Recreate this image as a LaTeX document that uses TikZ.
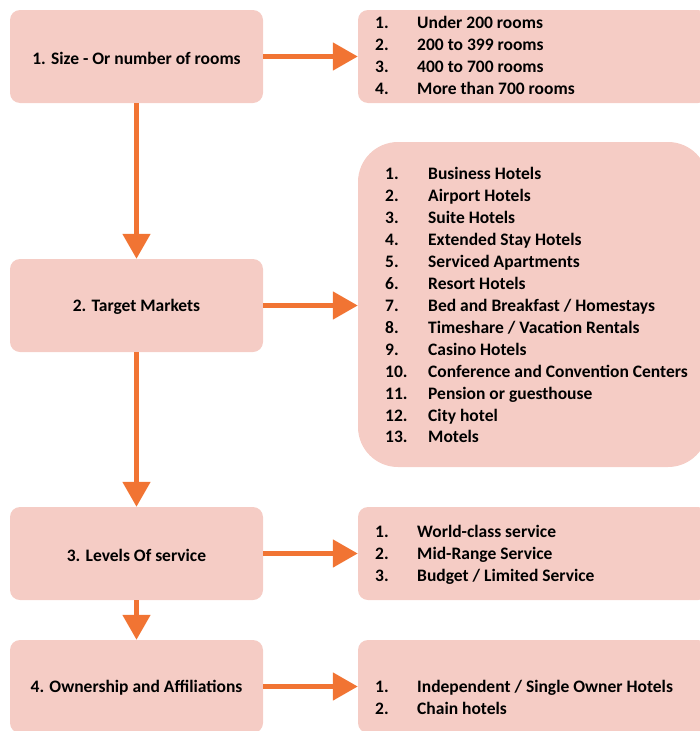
\documentclass[tikz,border=0pt]{standalone}
\usepackage{fontspec}
\setmainfont{Carlito}
\usetikzlibrary{arrows.meta}
\definecolor{boxfill}{RGB}{245,204,197}
\definecolor{arrowc}{RGB}{241,116,51}
\begin{document}
\begin{tikzpicture}[x=1pt,y=-1pt,
  card/.style={rectangle,rounded corners=10pt,fill=boxfill,inner sep=0pt,
    minimum width=253pt,minimum height=93pt},
  label/.style={inner sep=0pt,font=\bfseries\fontsize{17.5}{21}\selectfont},
  listbox/.style={rectangle,rounded corners=#1,fill=boxfill,inner sep=0pt,
    minimum width=350pt},
  flow/.style={draw=arrowc,line width=5pt,
    -{Triangle[width=27pt,length=25pt]}},
  entry/.style={anchor=mid west,inner sep=0pt,
    font=\bfseries\fontsize{17.5}{21}\selectfont}
]
\useasboundingbox (0,0) rectangle (700,731);

% category boxes on the left
\node[card] (b1) at (136.5,56.5) {};
\node[card] (b2) at (136.5,305.5) {};
\node[card] (b3) at (136.5,553.5) {};
\node[card] (b4) at (136.5,686.5) {};
\node[label] (l1) at (136.5,58) {1. Size - Or number of rooms};
\node[label] (l2) at (136.5,307) {2. Target Markets};
\node[label] (l3) at (136.5,555) {3. Levels Of service};
\node[label] (l4) at (136.5,688) {4. Ownership and Affiliations};

% list boxes on the right
\node[listbox=10pt,minimum height=93pt] (r1) at (533,56.5) {};
\node[listbox=40pt,minimum height=325pt] (r2) at (533,304.5) {};
\node[listbox=10pt,minimum height=93pt] (r3) at (533,553.5) {};
\node[listbox=10pt,minimum height=93pt] (r4) at (533,686.5) {};

% connectors
\draw[flow] (b1) -- (b2);
\draw[flow] (b2) -- (b3);
\draw[flow] (b3) -- (b4);
\draw[flow] (b1.east) -- (b1.east -| r1.west);
\draw[flow] (b2.east) -- (b2.east -| r2.west);
\draw[flow] (b3.east) -- (b3.east -| r3.west);
\draw[flow] (b4.east) -- (b4.east -| r4.west);

% list entries
\foreach \t [count=\i] in {Under 200 rooms, 200 to 399 rooms,
    400 to 700 rooms, More than 700 rooms} {
  \node[entry] (r1n\i) at (375,{26.5+22*(\i-1)}) {\i.};
  \node[entry] (r1t\i) at (417,{26.5+22*(\i-1)}) {\t};
}
\foreach \t [count=\i] in {Business Hotels, Airport Hotels, Suite Hotels,
    Extended Stay Hotels, Serviced Apartments, Resort Hotels,
    Bed and Breakfast / Homestays, Timeshare / Vacation Rentals,
    Casino Hotels, Conference and Convention Centers,
    Pension or guesthouse, City hotel, Motels} {
  \node[entry] (r2n\i) at (385,{177.5+21.92*(\i-1)}) {\i.};
  \node[entry] (r2t\i) at (428,{177.5+21.92*(\i-1)}) {\t};
}
\foreach \t [count=\i] in {World-class service, Mid-Range Service,
    Budget / Limited Service} {
  \node[entry] (r3n\i) at (375,{535.5+22*(\i-1)}) {\i.};
  \node[entry] (r3t\i) at (417,{535.5+22*(\i-1)}) {\t};
}
\foreach \t [count=\i] in {Independent / Single Owner Hotels, Chain hotels} {
  \node[entry] (r4n\i) at (375,{690.5+22*(\i-1)}) {\i.};
  \node[entry] (r4t\i) at (417,{690.5+22*(\i-1)}) {\t};
}
\end{tikzpicture}
\end{document}
